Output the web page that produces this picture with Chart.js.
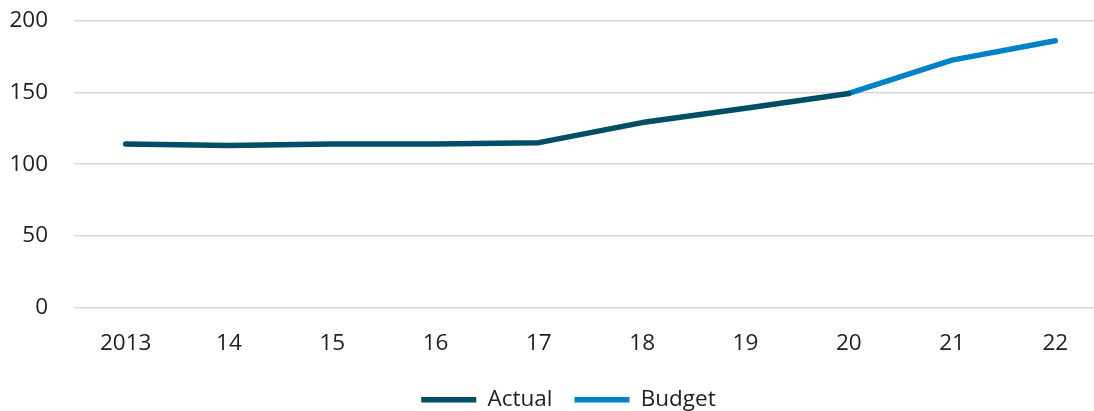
<!DOCTYPE html>
<html>
<head>
<meta charset="utf-8">
<script src="https://cdn.jsdelivr.net/npm/chart.js@4/dist/chart.umd.min.js"></script>
<style>
  html, body { margin: 0; padding: 0; background: #fff; overflow: hidden; }
  #wrap { position: relative; width: 1107px; height: 421px; }
</style>
</head>
<body>
<div id="wrap"><canvas id="c" width="1107" height="421"></canvas></div>
<script>
// Categories (years) and series values
const categories = ['2013', '14', '15', '16', '17', '18', '19', '20', '21', '22'];
const actualValues = [114, 113, 114, 114, 115, 129, 139, 149.3, null, null];
const budgetValues = [null, null, null, null, null, null, null, 149.3, 172.5, 186];
const yTickStep = 50;
const yMin = 0;
const yMax = 200;

const FONT = { family: '"Open Sans", "Noto Sans", sans-serif', size: 22.5 };
const TEXT = '#1f1f1f';

// Shifts the legend row sideways so it sits under the plot
const legendNudge = {
  id: 'legendNudge',
  afterLayout(chart, args, opts) {
    const lg = chart.legend;
    if (lg) { lg.left += opts.dx; lg.right += opts.dx; }
  }
};

new Chart(document.getElementById('c'), {
  type: 'line',
  data: {
    labels: categories,
    datasets: [
      {
        label: 'Actual',
        data: actualValues,
        borderColor: '#004d66',
        backgroundColor: '#004d66',
        borderWidth: 5.5,
        borderCapStyle: 'round',
        borderJoinStyle: 'round',
        pointRadius: 0,
        tension: 0
      },
      {
        label: 'Budget',
        data: budgetValues,
        borderColor: '#0081c9',
        backgroundColor: '#0081c9',
        borderWidth: 5.5,
        borderCapStyle: 'round',
        borderJoinStyle: 'round',
        pointRadius: 0,
        tension: 0
      }
    ]
  },
  plugins: [legendNudge],
  options: {
    responsive: false,
    devicePixelRatio: 1,
    animation: false,
    layout: { padding: { left: 0, right: 0, top: 20.7, bottom: 0 } },
    plugins: {
      tooltip: { enabled: false },
      legendNudge: { dx: 15 },
      legend: {
        position: 'bottom',
        labels: {
          usePointStyle: true,
          pointStyle: 'line',
          pointStyleWidth: 55,
          padding: 22,
          color: TEXT,
          font: FONT
        }
      }
    },
    scales: {
      x: {
        type: 'category',
        offset: true,
        grid: { display: false },
        border: { display: false },
        ticks: { color: TEXT, font: FONT, padding: 14, maxRotation: 0, autoSkip: false },
        afterFit: (s) => { s.height = 58.8; }
      },
      y: {
        min: yMin,
        max: yMax,
        grid: { color: '#d9d9d9', lineWidth: 1.5, drawTicks: false },
        border: { display: false },
        ticks: { color: TEXT, font: FONT, padding: 26, stepSize: yTickStep },
        afterFit: (s) => {
          s.width = 74;
          s.paddingTop = 0;
          s.paddingBottom = 0;
        }
      }
    }
  }
});
</script>
</body>
</html>
